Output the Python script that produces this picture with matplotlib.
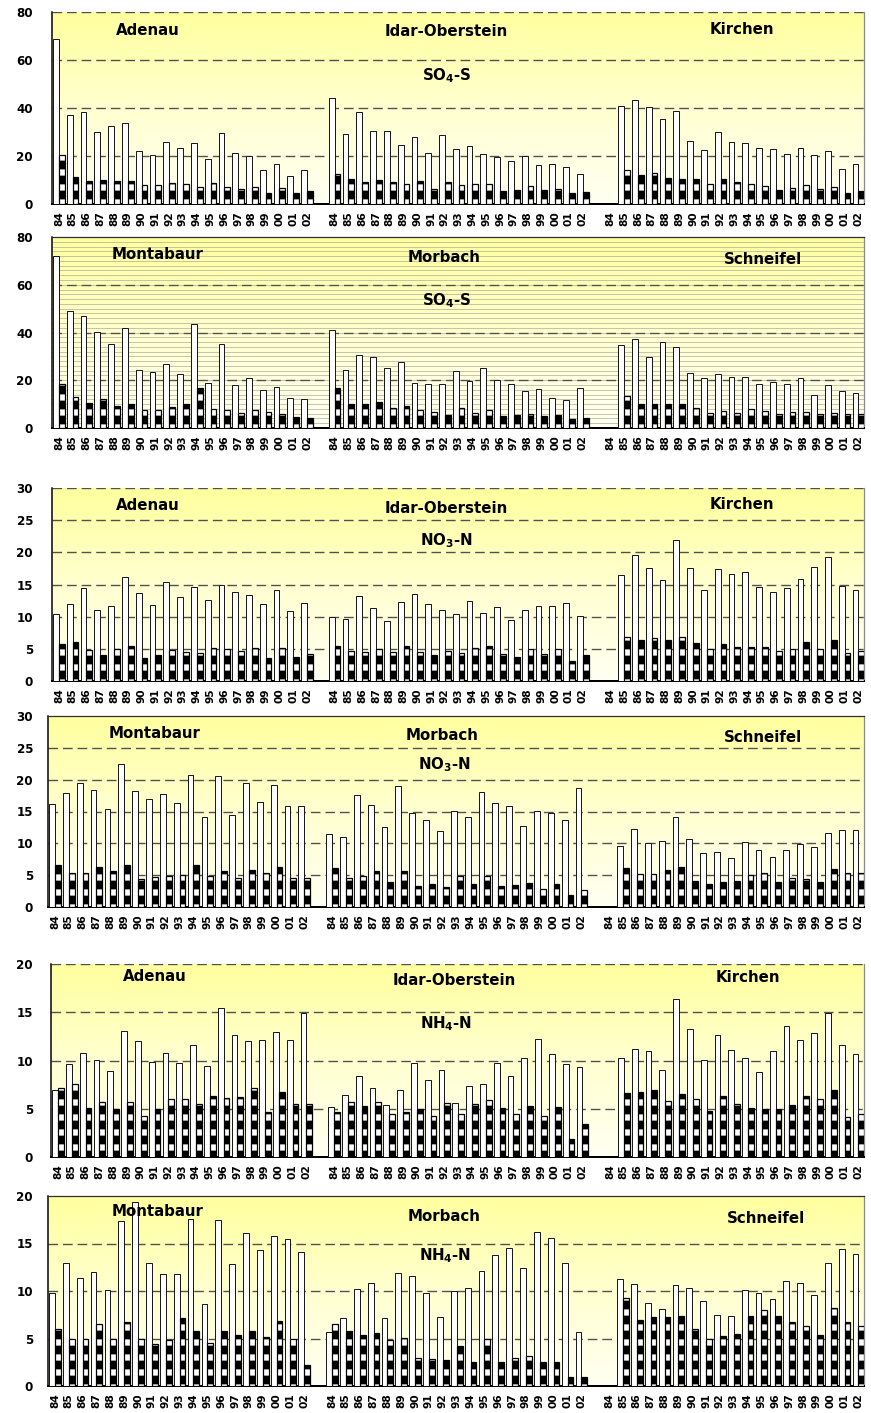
import numpy as np
import matplotlib.pyplot as plt
from matplotlib.colors import LinearSegmentedColormap

plt.rcParams['font.family'] = 'DejaVu Sans'
plt.rcParams['font.weight'] = 'bold'
plt.rcParams['mathtext.fontset'] = 'dejavusans'
plt.rcParams['hatch.linewidth'] = 5.0

years = ['84', '85', '86', '87', '88', '89', '90', '91', '92', '93',
         '94', '95', '96', '97', '98', '99', '00', '01', '02']

# SO4-S (open bar, patterned bar)
adenau_so4_a = [68.6, 37.1, 38.5, 30.1, 32.5, 33.6, 22.1, 20.6, 26.0, 23.5, 25.3, 18.8, 29.4, 21.1, 19.9, 14.2, 16.5, 11.7, 14.0]
adenau_so4_b = [20.3, 11.4, 9.7, 9.9, 9.6, 9.4, 7.8, 7.8, 8.9, 8.2, 6.9, 8.8, 6.9, 6.4, 7.2, 4.7, 6.5, 4.4, 5.4]
idar_so4_a = [44.3, 29.0, 38.2, 30.6, 30.3, 24.7, 28.1, 21.4, 28.8, 22.8, 24.2, 21.0, 19.7, 17.8, 20.0, 16.1, 16.7, 15.3, 12.5]
idar_so4_b = [12.6, 10.4, 9.3, 9.9, 9.3, 8.3, 9.7, 6.4, 9.0, 7.9, 8.3, 8.2, 5.6, 6.0, 7.6, 5.8, 6.4, 4.7, 5.1]
kirchen_so4_a = [0, 41.0, 43.5, 40.6, 35.3, 38.8, 26.4, 22.5, 30.1, 26.0, 25.6, 23.5, 22.9, 21.0, 23.2, 20.6, 22.1, 14.4, 16.5]
kirchen_so4_b = [0, 14.0, 12.2, 13.1, 11.0, 10.4, 10.3, 8.2, 10.6, 9.2, 8.2, 7.6, 6.0, 6.8, 7.9, 6.4, 7.2, 4.7, 5.3]
montabaur_so4_a = [72.0, 49.0, 47.1, 40.4, 35.1, 42.0, 24.5, 23.6, 26.7, 22.5, 43.4, 18.7, 35.0, 17.9, 21.1, 15.8, 17.1, 12.4, 12.2]
montabaur_so4_b = [18.3, 13.0, 10.6, 12.2, 9.1, 10.2, 7.7, 7.7, 8.7, 9.9, 16.8, 7.8, 7.4, 6.2, 7.6, 6.6, 6.0, 4.6, 4.3]
morbach_so4_a = [41.1, 24.2, 30.5, 29.9, 25.3, 27.7, 19.0, 18.6, 18.3, 23.8, 19.6, 25.2, 19.9, 18.5, 15.4, 16.5, 12.6, 11.9, 16.7]
morbach_so4_b = [16.8, 10.2, 10.1, 11.0, 8.4, 9.1, 7.4, 6.9, 5.6, 8.3, 6.2, 7.7, 5.2, 5.6, 6.0, 5.2, 5.3, 3.8, 4.2]
schneifel_so4_a = [0, 34.6, 37.2, 29.8, 36.2, 33.9, 23.2, 20.9, 22.8, 21.3, 21.3, 18.6, 19.4, 18.3, 21.0, 13.9, 18.2, 15.3, 14.7]
schneifel_so4_b = [0, 13.3, 10.1, 10.1, 10.1, 10.2, 8.3, 6.3, 7.0, 6.4, 8.1, 7.3, 5.7, 6.7, 6.9, 5.7, 6.4, 5.7, 6.0]

# NO3-N
adenau_no3_a = [10.4, 12.0, 14.5, 11.1, 11.6, 16.1, 13.7, 11.8, 15.4, 13.0, 14.6, 12.6, 14.9, 13.8, 13.4, 11.9, 14.1, 10.9, 12.1]
adenau_no3_b = [5.8, 6.1, 4.8, 4.0, 4.9, 5.5, 3.5, 4.1, 4.8, 4.5, 4.35, 5.2, 4.9, 4.7, 5.1, 3.5, 5.2, 3.8, 4.2]
idar_no3_a = [10.0, 9.6, 13.2, 11.3, 9.3, 12.3, 13.6, 11.9, 11.0, 10.4, 12.5, 10.6, 11.5, 9.5, 11.1, 11.6, 11.6, 12.1, 10.1]
idar_no3_b = [5.5, 4.6, 4.5, 5.0, 4.5, 5.5, 4.5, 4.0, 4.7, 4.35, 5.2, 5.5, 4.25, 3.8, 5.0, 4.25, 4.9, 3.1, 4.0]
kirchen_no3_a = [0, 16.4, 19.6, 17.5, 15.7, 21.9, 17.5, 14.2, 17.4, 16.6, 17.0, 14.6, 13.9, 14.4, 15.9, 17.7, 19.2, 14.8, 14.1]
kirchen_no3_b = [0, 6.9, 6.3, 6.7, 6.4, 6.9, 5.9, 4.9, 5.8, 5.3, 5.3, 5.3, 4.7, 5.0, 6.0, 4.9, 6.4, 4.4, 4.7]
montabaur_no3_a = [16.2, 17.85, 19.4, 18.4, 15.4, 22.5, 18.2, 17.0, 17.75, 16.3, 20.8, 14.2, 20.6, 14.5, 19.4, 16.5, 19.1, 15.8, 15.9]
montabaur_no3_b = [6.6, 5.4, 5.3, 6.3, 5.6, 6.65, 4.4, 4.7, 4.8, 5.0, 6.65, 4.9, 5.65, 4.6, 5.75, 5.4, 6.3, 4.5, 4.6]
morbach_no3_a = [11.4, 11.0, 17.6, 16.0, 12.5, 19.0, 14.8, 13.7, 11.9, 15.1, 14.1, 18.1, 16.4, 15.9, 12.8, 15.1, 14.7, 13.7, 18.7]
morbach_no3_b = [6.2, 4.6, 4.9, 5.7, 3.9, 5.65, 3.25, 3.65, 3.1, 4.9, 3.6, 4.9, 3.35, 3.5, 3.8, 2.9, 3.55, 1.9, 2.6]
schneifel_no3_a = [0, 9.6, 12.3, 10.05, 10.4, 14.2, 10.7, 8.55, 8.6, 7.75, 10.2, 8.9, 7.9, 8.9, 9.9, 9.4, 11.6, 12.1, 12.1]
schneifel_no3_b = [0, 6.2, 5.2, 5.2, 5.75, 6.3, 4.1, 3.55, 3.9, 4.1, 5.0, 5.4, 3.9, 4.5, 4.35, 4.0, 5.9, 5.3, 5.3]

# NH4-N
adenau_nh4_a = [6.9, 9.6, 10.8, 10.1, 8.9, 13.1, 12.0, 9.8, 10.8, 9.7, 11.6, 9.4, 15.45, 12.6, 12.0, 12.1, 13.0, 12.1, 14.9]
adenau_nh4_b = [7.1, 7.6, 5.1, 5.7, 5.0, 5.7, 4.3, 5.0, 6.0, 6.0, 5.5, 6.3, 6.1, 6.2, 7.2, 4.7, 6.75, 5.5, 5.5]
idar_nh4_a = [5.2, 6.4, 8.4, 7.2, 5.4, 6.9, 9.7, 8.0, 9.0, 5.6, 7.4, 7.6, 9.7, 8.4, 10.3, 12.2, 10.7, 9.65, 9.3]
idar_nh4_b = [4.7, 5.75, 5.25, 5.65, 4.5, 4.7, 5.0, 4.2, 5.6, 4.5, 5.5, 5.9, 5.1, 4.5, 5.3, 4.3, 5.2, 1.85, 3.4]
kirchen_nh4_a = [0, 10.3, 11.2, 11.0, 9.0, 16.4, 13.3, 10.1, 12.6, 11.1, 10.3, 8.8, 11.0, 13.6, 12.1, 12.9, 14.9, 11.6, 10.7]
kirchen_nh4_b = [0, 6.6, 6.7, 6.9, 5.8, 6.5, 6.0, 4.8, 6.3, 5.5, 5.1, 5.0, 5.0, 5.4, 6.3, 6.0, 6.9, 4.1, 4.5]
montabaur_nh4_a = [9.8, 13.0, 11.4, 12.0, 10.1, 17.4, 19.4, 13.0, 11.8, 11.8, 17.6, 8.6, 17.5, 12.8, 16.1, 14.3, 15.8, 15.5, 14.1]
montabaur_nh4_b = [6.0, 4.9, 5.0, 6.5, 5.0, 6.7, 5.0, 4.4, 4.8, 7.2, 5.8, 4.5, 5.8, 5.4, 5.8, 5.2, 6.8, 5.0, 2.2]
morbach_nh4_a = [5.7, 7.2, 10.2, 10.8, 7.2, 11.9, 11.6, 9.8, 7.3, 10.0, 10.3, 12.1, 13.8, 14.5, 12.4, 16.2, 15.6, 13.0, 5.7]
morbach_nh4_b = [6.5, 5.8, 5.4, 5.6, 4.8, 5.1, 3.0, 2.8, 2.7, 4.2, 2.5, 4.9, 2.5, 3.0, 3.2, 2.5, 2.5, 0.9, 0.9]
schneifel_nh4_a = [0, 11.3, 10.7, 8.7, 8.1, 10.6, 10.3, 9.0, 7.5, 7.4, 10.1, 9.8, 9.2, 11.1, 10.8, 9.6, 12.9, 14.4, 13.9]
schneifel_nh4_b = [0, 9.3, 7.0, 7.3, 7.3, 7.4, 6.0, 5.0, 5.3, 5.5, 7.4, 8.0, 7.4, 6.7, 6.3, 5.4, 8.2, 6.7, 6.3]

W, H = 871, 1413
DPI = 90
fig = plt.figure(figsize=(W / DPI, H / DPI), dpi=DPI)

cmap = LinearSegmentedColormap.from_list('bg', ['#FFFFF2', '#FFFFD0', '#FFFF9E'])
grad = np.linspace(0, 1, 256).reshape(-1, 1)


def panel(left, top, bottom, groups, ymax, step, names, name_xy, species, species_xy,
          dashed_top, ruled=False):
    ax = fig.add_axes([left / W, 1 - bottom / H, (864 - left) / W, (bottom - top) / H])
    ax.imshow(grad, origin='lower', extent=[0, 1, 0, 1], transform=ax.transAxes,
              cmap=cmap, aspect='auto', zorder=0)
    ticks, labels = [], []
    for g, (a, b) in enumerate(groups):
        x = np.arange(len(years)) + g * 20
        ax.bar(x - 0.21, a, width=0.42, color='white', edgecolor='#1a1a1a', linewidth=0.8, zorder=3)
        ax.bar(x + 0.21, b, width=0.42, color='black', edgecolor='white', hatch='-',
               linewidth=0, zorder=3)
        ax.bar(x + 0.21, b, width=0.42, fill=False, edgecolor='black', linewidth=1.0, zorder=4)
        ticks += list(x)
        labels += years
    ax.set_xlim(-0.5, 58.4)
    ax.set_ylim(0, ymax)
    ax.set_xticks(ticks)
    ax.set_xticklabels(labels, rotation=90, fontsize=8.5, fontweight='bold')
    ax.set_yticks(np.arange(0, ymax + 0.1, step))
    ax.tick_params(axis='x', length=0, pad=6)
    ax.tick_params(axis='y', length=0, pad=(left - 33) * 72 / DPI, labelsize=9.5)
    for t in ax.get_yticklabels():
        t.set_fontweight('bold')
    grid_vals = np.arange(step, ymax + 0.1 if dashed_top else ymax - 0.1, step)
    for v in grid_vals:
        ax.axhline(v, color='#505050', lw=1.1, ls=(0, (7, 3.6)), zorder=1)
    if ruled:
        for v in np.arange(2, ymax, 2):
            ax.axhline(v, color='#b4b49a', lw=0.6, zorder=0.5)
    ax.spines['left'].set_color('black')
    ax.spines['left'].set_linewidth(1.2)
    ax.spines['bottom'].set_color('black')
    ax.spines['bottom'].set_linewidth(1.6)
    ax.spines['right'].set_color('#8a8a8a')
    ax.spines['right'].set_linewidth(1.0)
    if dashed_top:
        ax.spines['top'].set_visible(False)
    else:
        ax.spines['top'].set_color('#303030')
        ax.spines['top'].set_linewidth(1.0)
    for name, (fx, fy) in zip(names, name_xy):
        ax.text(fx, fy, name, transform=ax.transAxes, ha='center', va='center',
                fontsize=12, fontweight='bold', zorder=5)
    ax.text(species_xy[0], species_xy[1], species, transform=ax.transAxes, ha='center',
            va='center', fontsize=12, fontweight='bold', zorder=5)
    return ax


top_names = ['Adenau', 'Idar-Oberstein', 'Kirchen']
low_names = ['Montabaur', 'Morbach', 'Schneifel']
so4 = r'SO$_{\mathbf{4}}$-S'
no3 = r'NO$_{\mathbf{3}}$-N'
nh4 = r'NH$_{\mathbf{4}}$-N'

panel(52, 12, 204, [(adenau_so4_a, adenau_so4_b), (idar_so4_a, idar_so4_b),
                    (kirchen_so4_a, kirchen_so4_b)], 80, 20,
      top_names, [(0.118, 0.906), (0.486, 0.896), (0.849, 0.91)], so4, (0.486, 0.67), True)
panel(52, 237, 428, [(montabaur_so4_a, montabaur_so4_b), (morbach_so4_a, morbach_so4_b),
                     (schneifel_so4_a, schneifel_so4_b)], 80, 20,
      low_names, [(0.13, 0.906), (0.483, 0.895), (0.876, 0.88)], so4, (0.486, 0.665), False,
      ruled=True)
panel(52, 488, 681, [(adenau_no3_a, adenau_no3_b), (idar_no3_a, idar_no3_b),
                     (kirchen_no3_a, kirchen_no3_b)], 30, 5,
      top_names, [(0.118, 0.907), (0.486, 0.896), (0.849, 0.912)], no3, (0.486, 0.725), True)
panel(48, 716, 907, [(montabaur_no3_a, montabaur_no3_b), (morbach_no3_a, morbach_no3_b),
                     (schneifel_no3_a, schneifel_no3_b)], 30, 5,
      low_names, [(0.13, 0.91), (0.483, 0.9), (0.876, 0.89)], no3, (0.486, 0.747), False)
panel(51, 964, 1157, [(adenau_nh4_a, adenau_nh4_b), (idar_nh4_a, idar_nh4_b),
                      (kirchen_nh4_a, kirchen_nh4_b)], 20, 5,
      top_names, [(0.128, 0.933), (0.496, 0.912), (0.857, 0.928)], nh4, (0.486, 0.69), True)
panel(48, 1196, 1386, [(montabaur_nh4_a, montabaur_nh4_b), (morbach_nh4_a, morbach_nh4_b),
                       (schneifel_nh4_a, schneifel_nh4_b)], 20, 5,
      low_names, [(0.134, 0.916), (0.485, 0.89), (0.88, 0.879)], nh4, (0.486, 0.684), False)

fig.savefig('out.png', dpi=DPI)
